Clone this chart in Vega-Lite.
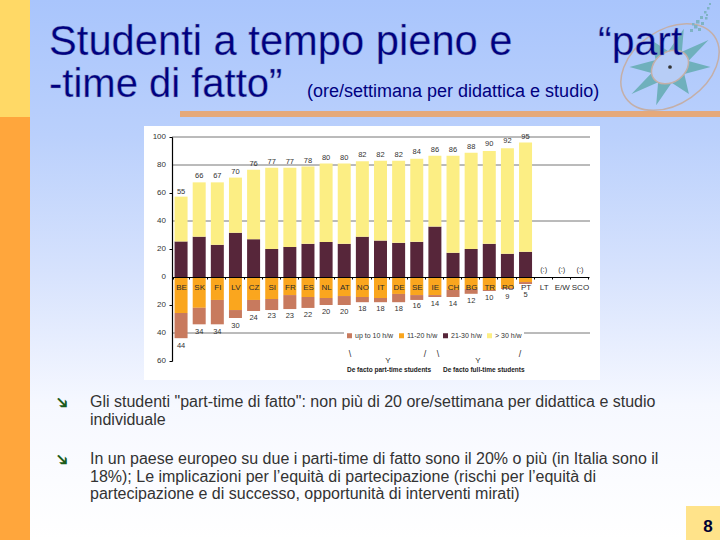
{"$schema":"https://vega.github.io/schema/vega-lite/v6.json","width":417,"height":224,"autosize":{"type":"none"},"padding":{"left":172,"top":137,"right":131,"bottom":179},"background":"#ffffff","config":{"view":{"stroke":null},"text":{"font":"Liberation Sans"},"axis":{"labelOverlap":false}},
"datasets":{"bars":[
{"country":"BE","band":"21-30 h/w","rank":1,"value":25.4},{"country":"BE","band":"> 30 h/w","rank":2,"value":32},{"country":"BE","band":"11-20 h/w","rank":1,"value":-25.7},{"country":"BE","band":"up to 10 h/w","rank":2,"value":-18},
{"country":"SK","band":"21-30 h/w","rank":1,"value":28.8},{"country":"SK","band":"> 30 h/w","rank":2,"value":38.8},{"country":"SK","band":"11-20 h/w","rank":1,"value":-22},{"country":"SK","band":"up to 10 h/w","rank":2,"value":-11.8},
{"country":"FI","band":"21-30 h/w","rank":1,"value":23},{"country":"FI","band":"> 30 h/w","rank":2,"value":44.6},{"country":"FI","band":"11-20 h/w","rank":1,"value":-16.4},{"country":"FI","band":"up to 10 h/w","rank":2,"value":-17.4},
{"country":"LV","band":"21-30 h/w","rank":1,"value":31.6},{"country":"LV","band":"> 30 h/w","rank":2,"value":39.4},{"country":"LV","band":"11-20 h/w","rank":1,"value":-23.6},{"country":"LV","band":"up to 10 h/w","rank":2,"value":-5.7},
{"country":"CZ","band":"21-30 h/w","rank":1,"value":27},{"country":"CZ","band":"> 30 h/w","rank":2,"value":49.6},{"country":"CZ","band":"11-20 h/w","rank":1,"value":-16.4},{"country":"CZ","band":"up to 10 h/w","rank":2,"value":-7.9},
{"country":"SI","band":"21-30 h/w","rank":1,"value":20},{"country":"SI","band":"> 30 h/w","rank":2,"value":58},{"country":"SI","band":"11-20 h/w","rank":1,"value":-15.7},{"country":"SI","band":"up to 10 h/w","rank":2,"value":-7.9},
{"country":"FR","band":"21-30 h/w","rank":1,"value":21.5},{"country":"FR","band":"> 30 h/w","rank":2,"value":56.5},{"country":"FR","band":"11-20 h/w","rank":1,"value":-12.9},{"country":"FR","band":"up to 10 h/w","rank":2,"value":-10},
{"country":"ES","band":"21-30 h/w","rank":1,"value":23.7},{"country":"ES","band":"> 30 h/w","rank":2,"value":55.3},{"country":"ES","band":"11-20 h/w","rank":1,"value":-14.3},{"country":"ES","band":"up to 10 h/w","rank":2,"value":-7.8},
{"country":"NL","band":"21-30 h/w","rank":1,"value":25},{"country":"NL","band":"> 30 h/w","rank":2,"value":56},{"country":"NL","band":"11-20 h/w","rank":1,"value":-15},{"country":"NL","band":"up to 10 h/w","rank":2,"value":-5},
{"country":"AT","band":"21-30 h/w","rank":1,"value":23.7},{"country":"AT","band":"> 30 h/w","rank":2,"value":57.3},{"country":"AT","band":"11-20 h/w","rank":1,"value":-13.6},{"country":"AT","band":"up to 10 h/w","rank":2,"value":-6.4},
{"country":"NO","band":"21-30 h/w","rank":1,"value":28.8},{"country":"NO","band":"> 30 h/w","rank":2,"value":53.8},{"country":"NO","band":"11-20 h/w","rank":1,"value":-14.3},{"country":"NO","band":"up to 10 h/w","rank":2,"value":-3.7},
{"country":"IT","band":"21-30 h/w","rank":1,"value":26},{"country":"IT","band":"> 30 h/w","rank":2,"value":57},{"country":"IT","band":"11-20 h/w","rank":1,"value":-15},{"country":"IT","band":"up to 10 h/w","rank":2,"value":-3},
{"country":"DE","band":"21-30 h/w","rank":1,"value":24.4},{"country":"DE","band":"> 30 h/w","rank":2,"value":58.6},{"country":"DE","band":"11-20 h/w","rank":1,"value":-12.1},{"country":"DE","band":"up to 10 h/w","rank":2,"value":-5.9},
{"country":"SE","band":"21-30 h/w","rank":1,"value":25.1},{"country":"SE","band":"> 30 h/w","rank":2,"value":59.4},{"country":"SE","band":"11-20 h/w","rank":1,"value":-12.9},{"country":"SE","band":"up to 10 h/w","rank":2,"value":-3.5},
{"country":"IE","band":"21-30 h/w","rank":1,"value":36},{"country":"IE","band":"> 30 h/w","rank":2,"value":50.6},{"country":"IE","band":"11-20 h/w","rank":1,"value":-12.9},{"country":"IE","band":"up to 10 h/w","rank":2,"value":-1.4},
{"country":"CH","band":"21-30 h/w","rank":1,"value":17.3},{"country":"CH","band":"> 30 h/w","rank":2,"value":69.3},{"country":"CH","band":"11-20 h/w","rank":1,"value":-9.3},{"country":"CH","band":"up to 10 h/w","rank":2,"value":-5},
{"country":"BG","band":"21-30 h/w","rank":1,"value":20},{"country":"BG","band":"> 30 h/w","rank":2,"value":68.7},{"country":"BG","band":"11-20 h/w","rank":1,"value":-8.6},{"country":"BG","band":"up to 10 h/w","rank":2,"value":-3.4},
{"country":"TR","band":"21-30 h/w","rank":1,"value":23.7},{"country":"TR","band":"> 30 h/w","rank":2,"value":66.3},{"country":"TR","band":"11-20 h/w","rank":1,"value":-9.3},{"country":"TR","band":"up to 10 h/w","rank":2,"value":-0.7},
{"country":"RO","band":"21-30 h/w","rank":1,"value":16.6},{"country":"RO","band":"> 30 h/w","rank":2,"value":75.4},{"country":"RO","band":"11-20 h/w","rank":1,"value":-7.9},{"country":"RO","band":"up to 10 h/w","rank":2,"value":-0.7},
{"country":"PT","band":"21-30 h/w","rank":1,"value":18},{"country":"PT","band":"> 30 h/w","rank":2,"value":78},{"country":"PT","band":"11-20 h/w","rank":1,"value":-3.6},{"country":"PT","band":"up to 10 h/w","rank":2,"value":-1.4}],
"top":[{"country":"BE","total":56,"label":"55"},{"country":"SK","total":67,"label":"66"},{"country":"FI","total":67,"label":"67"},{"country":"LV","total":70,"label":"70"},{"country":"CZ","total":76,"label":"76"},{"country":"SI","total":77,"label":"77"},{"country":"FR","total":77,"label":"77"},{"country":"ES","total":78,"label":"78"},{"country":"NL","total":80,"label":"80"},{"country":"AT","total":80,"label":"80"},{"country":"NO","total":82,"label":"82"},{"country":"IT","total":82,"label":"82"},{"country":"DE","total":82,"label":"82"},{"country":"SE","total":84,"label":"84"},{"country":"IE","total":86,"label":"86"},{"country":"CH","total":86,"label":"86"},{"country":"BG","total":88,"label":"88"},{"country":"TR","total":90,"label":"90"},{"country":"RO","total":92,"label":"92"},{"country":"PT","total":95,"label":"95"},{"country":"LT","total":0,"label":"(:)"},{"country":"E/W","total":0,"label":"(:)"},{"country":"SCO","total":0,"label":"(:)"}],
"bottom":[{"country":"BE","total":-44,"label":"44"},{"country":"SK","total":-34,"label":"34"},{"country":"FI","total":-34,"label":"34"},{"country":"LV","total":-30,"label":"30"},{"country":"CZ","total":-24,"label":"24"},{"country":"SI","total":-23,"label":"23"},{"country":"FR","total":-23,"label":"23"},{"country":"ES","total":-22,"label":"22"},{"country":"NL","total":-20,"label":"20"},{"country":"AT","total":-20,"label":"20"},{"country":"NO","total":-18,"label":"18"},{"country":"IT","total":-18,"label":"18"},{"country":"DE","total":-18,"label":"18"},{"country":"SE","total":-16,"label":"16"},{"country":"IE","total":-14,"label":"14"},{"country":"CH","total":-14,"label":"14"},{"country":"BG","total":-12,"label":"12"},{"country":"TR","total":-10,"label":"10"},{"country":"RO","total":-9,"label":"9"},{"country":"PT","total":-8,"label":"5"}],
"grid":[{"level":100},{"level":80},{"level":40},{"level":-40}],
"ticks":[{"level":100,"label":"100"},{"level":80,"label":"80"},{"level":60,"label":"60"},{"level":40,"label":"40"},{"level":20,"label":"20"},{"level":0,"label":"0"},{"level":-20,"label":"20"},{"level":-40,"label":"40"},{"level":-60,"label":"60"}]},
"layer":[
{"data":{"values":[{"a":1}]},"mark":{"type":"rect","x":-172,"x2":548,"y":-137,"y2":403,"fill":{"gradient":"linear","x1":0,"y1":0,"x2":0,"y2":1,"stops":[{"offset":0,"color":"#A9C5FC"},{"offset":0.25,"color":"#BAD0FC"},{"offset":0.5,"color":"#D6E2FD"},{"offset":0.75,"color":"#F6F8FF"},{"offset":1,"color":"#FFFFFF"}]}},"encoding":{}},
{"data":{"values":[{"a":1}]},"mark":{"type":"rect","x":-172,"x2":-142,"y":-137,"y2":-20,"fill":"#FFD966"},"encoding":{}},
{"data":{"values":[{"a":1}]},"mark":{"type":"rect","x":-172,"x2":-142,"y":-20,"y2":403,"fill":"#FFA63C"},"encoding":{}},
{"data":{"values":[{"a":1}]},"mark":{"type":"rect","x":8,"x2":548,"y":-26,"y2":-20,"fill":"#E5A97B"},"encoding":{}},
{"data":{"values":[{"a":1}]},"mark":{"type":"rect","x":514,"x2":548,"y":369,"y2":403,"fill":"#FFE38A"},"encoding":{}},
{"data":{"values":[{"a":1}]},"mark":{"type":"point","x":498,"y":-70,"size":40000,"angle":-35,"filled":true,"fill":"#6FB0BC","opacity":1,"shape":"M0.47 0L0.185 0.057L0.332 0.233L0.077 0.139L0 0.33L-0.077 0.139L-0.332 0.233L-0.185 0.057L-0.47 0L-0.185 -0.057L-0.332 -0.233L-0.077 -0.139L0 -0.33L0.077 -0.139L0.332 -0.233L0.185 -0.057Z"},"encoding":{}},
{"data":{"values":[{"a":1}]},"mark":{"type":"point","x":498,"y":-70,"size":40000,"angle":-35,"filled":false,"stroke":"#C4AFA8","strokeWidth":1.5,"opacity":1,"shape":"M-0.54 0A0.54 0.37 0 1 0 0.54 0A0.54 0.37 0 1 0 -0.54 0Z"},"encoding":{}},
{"data":{"values":[{"a":1}]},"mark":{"type":"point","x":498,"y":-70,"size":40000,"angle":-35,"filled":true,"fill":"#B7CDF6","stroke":"#C4AFA8","strokeWidth":1.5,"opacity":1,"shape":"M-0.2 0A0.2 0.15 0 1 0 0.2 0A0.2 0.15 0 1 0 -0.2 0Z"},"encoding":{}},
{"data":{"values":[{"a":1}]},"mark":{"type":"point","x":498,"y":-70,"size":14,"filled":true,"fill":"#333333","opacity":1,"shape":"circle"},"encoding":{}},
{"data":{"values":[{"a":1}]},"mark":{"type":"point","x":498,"y":-70,"size":10000,"filled":true,"fill":"#7FB3C4","opacity":1,"shape":"M0.4 -0.76h0.06v0.06h-0.06zM0.48 -0.84h0.07v0.07h-0.07zM0.56 -0.78h0.06v0.06h-0.06zM0.52 -0.94h0.07v0.07h-0.07zM0.62 -0.9h0.06v0.06h-0.06zM0.6 -1.02h0.06v0.06h-0.06zM0.7 -1h0.05v0.05h-0.05zM0.68 -1.12h0.05v0.05h-0.05zM0.74 -1.2h0.05v0.05h-0.05zM0.78 -1.28h0.04v0.04h-0.04zM0.44 -0.88h0.05v0.05h-0.05zM0.72 -1.06h0.04v0.04h-0.04z"},"encoding":{}},
{"data":{"values":[{"a":1}]},"mark":{"type":"rect","x":-28,"x2":428,"y":-11,"y2":243,"fill":"#FFFFFF"},"encoding":{}},
{"data":{"name":"grid"},"mark":{"type":"rule","x":0,"x2":418,"stroke":"#777777","strokeWidth":1},"encoding":{"y":{"field":"level","type":"quantitative","title":null,"scale":{"domain":[-60,100],"nice":false},"axis":{"values":[100,80,60,40,20,0,-20,-40,-60],"labels":false,"zindex":1,"grid":false,"domainColor":"#000000","domainWidth":1.2,"tickColor":"#000000","tickSize":3}}}},
{"data":{"name":"ticks"},"mark":{"type":"text","x":-6,"align":"right","baseline":"middle","fontSize":8,"fill":"#333333"},"encoding":{"y":{"field":"level","type":"quantitative","title":null},"text":{"field":"label"}}},
{"data":{"name":"bars"},"mark":{"type":"bar","width":13},"encoding":{
"x":{"field":"country","type":"nominal","sort":null,"title":null,"scale":{"domain":["BE","SK","FI","LV","CZ","SI","FR","ES","NL","AT","NO","IT","DE","SE","IE","CH","BG","TR","RO","PT","LT","E/W","SCO"]},"axis":{"orient":"bottom","offset":-84,"zindex":1,"domainColor":"#000000","domainWidth":1.2,"tickColor":"#000000","tickBand":"extent","tickSize":2,"labelAngle":0,"labelFont":"Liberation Sans","labelFontSize":8,"labelColor":"#2b2b2b","labelPadding":4,"labelOverlap":false,"grid":false}},
"y":{"field":"value","type":"quantitative","stack":"zero","title":null},
"order":{"field":"rank","type":"quantitative"},
"color":{"field":"band","type":"nominal","scale":{"domain":["up to 10 h/w","11-20 h/w","21-30 h/w","> 30 h/w"],"range":["#C87A5E","#FAA61E","#57263A","#FCEE84"]},"legend":{"title":null,"orient":"none","legendX":172,"legendY":193,"direction":"horizontal","columns":4,"symbolType":"square","symbolSize":25,"symbolOpacity":1,"labelFont":"Liberation Sans","labelFontSize":7,"labelColor":"#333333","fillColor":"#FFFFFF","padding":2,"columnPadding":4,"labelOffset":2}}}},
{"data":{"name":"top"},"mark":{"type":"text","fontSize":7.5,"dy":-7,"fill":"#333333"},"encoding":{"x":{"field":"country","type":"nominal","sort":null,"title":null},"y":{"field":"total","type":"quantitative","title":null},"text":{"field":"label"}}},
{"data":{"name":"bottom"},"mark":{"type":"text","fontSize":7.5,"dy":7,"fill":"#333333"},"encoding":{"x":{"field":"country","type":"nominal","sort":null,"title":null},"y":{"field":"total","type":"quantitative","title":null},"text":{"field":"label"}}},
{"data":{"values":[{"t":"De facto part-time students"}]},"mark":{"type":"text","x":175,"y":233,"align":"left","fontSize":6.5,"fontWeight":"bold","fill":"#222222"},"encoding":{"text":{"field":"t"}}},
{"data":{"values":[{"t":"De facto full-time students"}]},"mark":{"type":"text","x":271,"y":233,"align":"left","fontSize":6.5,"fontWeight":"bold","fill":"#222222"},"encoding":{"text":{"field":"t"}}},
{"data":{"values":[{"t":"\\"}]},"mark":{"type":"text","x":178,"y":217,"fontSize":9,"fill":"#333333"},"encoding":{"text":{"field":"t"}}},
{"data":{"values":[{"t":"Y"}]},"mark":{"type":"text","x":216,"y":224,"fontSize":8,"fill":"#333333"},"encoding":{"text":{"field":"t"}}},
{"data":{"values":[{"t":"/"}]},"mark":{"type":"text","x":253,"y":217,"fontSize":9,"fill":"#333333"},"encoding":{"text":{"field":"t"}}},
{"data":{"values":[{"t":"\\"}]},"mark":{"type":"text","x":266,"y":217,"fontSize":9,"fill":"#333333"},"encoding":{"text":{"field":"t"}}},
{"data":{"values":[{"t":"Y"}]},"mark":{"type":"text","x":306,"y":224,"fontSize":8,"fill":"#333333"},"encoding":{"text":{"field":"t"}}},
{"data":{"values":[{"t":"/"}]},"mark":{"type":"text","x":348,"y":217,"fontSize":9,"fill":"#333333"},"encoding":{"text":{"field":"t"}}},
{"data":{"values":[{"t":"Studenti a tempo pieno e"}]},"mark":{"type":"text","x":-123,"y":-82,"align":"left","baseline":"alphabetic","fontSize":41.7,"fill":"#000080","stroke":"#8FA2C8","strokeWidth":0.6,"strokeOpacity":0.7},"encoding":{"text":{"field":"t"}}},
{"data":{"values":[{"t":"“part"}]},"mark":{"type":"text","x":426,"y":-82,"align":"left","baseline":"alphabetic","fontSize":41,"fill":"#000080","stroke":"#8FA2C8","strokeWidth":0.6,"strokeOpacity":0.7},"encoding":{"text":{"field":"t"}}},
{"data":{"values":[{"t":"-time di fatto”"}]},"mark":{"type":"text","x":-123,"y":-40,"align":"left","baseline":"alphabetic","fontSize":40,"fill":"#000080","stroke":"#8FA2C8","strokeWidth":0.6,"strokeOpacity":0.7},"encoding":{"text":{"field":"t"}}},
{"data":{"values":[{"t":"(ore/settimana per didattica e studio)"}]},"mark":{"type":"text","x":135,"y":-40,"align":"left","baseline":"alphabetic","fontSize":18,"fill":"#000080"},"encoding":{"text":{"field":"t"}}},
{"data":{"values":[{"t":"➔"}]},"mark":{"type":"text","x":-110,"y":266,"font":"DejaVu Sans","fontSize":17,"angle":45,"fontWeight":"bold","fill":"#1A5C1A"},"encoding":{"text":{"field":"t"}}},
{"data":{"values":[{"t":"➔"}]},"mark":{"type":"text","x":-110,"y":323,"font":"DejaVu Sans","fontSize":17,"angle":45,"fontWeight":"bold","fill":"#1A5C1A"},"encoding":{"text":{"field":"t"}}},
{"data":{"values":[{"t":"Gli studenti \"part-time di fatto\": non più di 20 ore/settimana per didattica e studio\nindividuale"}]},"mark":{"type":"text","x":-82,"y":270,"align":"left","baseline":"alphabetic","fontSize":16,"lineBreak":"\n","lineHeight":17.5,"fill":"#333333"},"encoding":{"text":{"field":"t"}}},
{"data":{"values":[{"t":"In un paese europeo su due i parti-time di fatto sono il 20% o più (in Italia sono il\n18%); Le implicazioni per l’equità di partecipazione (rischi per l’equità di\npartecipazione e di successo, opportunità di interventi mirati)"}]},"mark":{"type":"text","x":-82,"y":327,"align":"left","baseline":"alphabetic","fontSize":16,"lineBreak":"\n","lineHeight":17.5,"fill":"#333333"},"encoding":{"text":{"field":"t"}}},
{"data":{"values":[{"t":"8"}]},"mark":{"type":"text","x":536,"y":395,"align":"center","baseline":"alphabetic","fontSize":17,"fontWeight":"bold","fill":"#000033"},"encoding":{"text":{"field":"t"}}}
]}
